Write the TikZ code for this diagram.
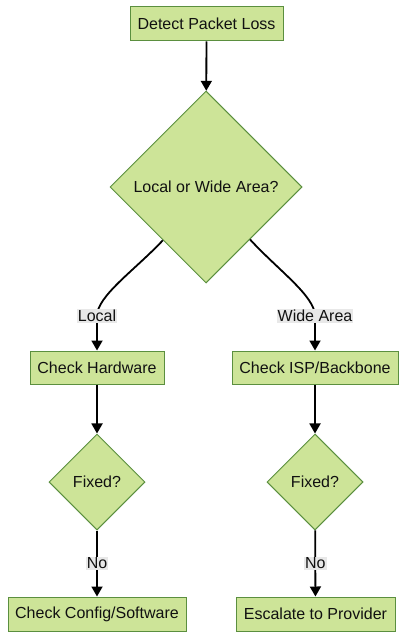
\documentclass[tikz,border=0pt]{standalone}
\usepackage{fontspec}
\setmainfont{Liberation Sans}
\usetikzlibrary{shapes.geometric,arrows.meta}
\definecolor{nodefill}{HTML}{CDE498}
\definecolor{nodeline}{HTML}{5B8F3F}
\definecolor{lblbg}{HTML}{E8E8E8}
\definecolor{txt}{HTML}{111111}
\begin{document}
\begin{tikzpicture}[x=1pt,y=-1pt,
  every node/.style={text=txt, font=\fontsize{16}{19}\selectfont},
  box/.style={draw=nodeline, fill=nodefill, line width=1pt, inner sep=0pt, rectangle},
  dec/.style={draw=nodeline, fill=nodefill, line width=1pt, inner sep=0pt, diamond, aspect=1},
  arr/.style={line width=1.8pt, draw=black, -{Triangle[length=10pt,width=11pt]}},
  lbl/.style={fill=lblbg, inner sep=1pt}]
\useasboundingbox (0,0) rectangle (407,639);
\fill[white] (0,0) rectangle (407,639);
\node[box, minimum width=153pt, minimum height=34pt] (start) at (206.5,24) {Detect Packet Loss};
\node[dec, minimum width=192pt, minimum height=192pt] (q1) at (206,187) {Local or Wide Area?};
\node[box, minimum width=134pt, minimum height=33pt] (hw) at (97,367.5) {Check Hardware};
\node[box, minimum width=166pt, minimum height=33pt] (isp) at (315,367.5) {Check ISP/Backbone};
\node[dec, minimum width=96pt, minimum height=96pt] (f1) at (97,482) {Fixed?};
\node[dec, minimum width=96pt, minimum height=96pt] (f2) at (315,482) {Fixed?};
\node[box, minimum width=178pt, minimum height=34pt] (cfg) at (97,614) {Check Config/Software};
\node[box, minimum width=159pt, minimum height=34pt] (esc) at (315.5,614) {Escalate to Provider};

\draw[arr] (start) -- (q1);
\draw[arr] (q1.231) .. controls (135,270) and (97,296) .. (97,316) node[lbl] {Local} -- (hw);
\draw[arr] (q1.310) .. controls (278,270) and (315,296) .. (315,316) node[lbl] {Wide Area} -- (isp);
\draw[arr] (hw) -- (f1);
\draw[arr] (isp) -- (f2);
\draw[arr] (f1) -- node[lbl] {No} (cfg);
\draw[arr] (f2) -- node[lbl] {No} (esc);
\end{tikzpicture}
\end{document}
